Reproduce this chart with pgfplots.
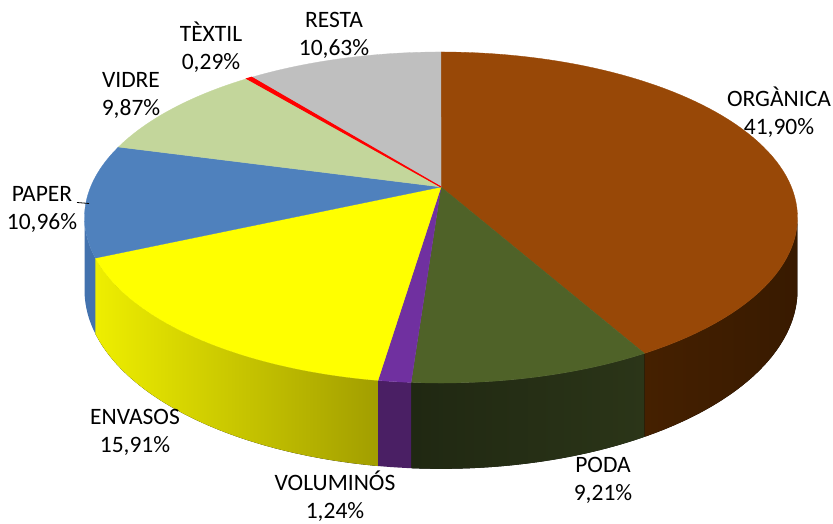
\documentclass[border=0pt]{standalone}
\usepackage{pgfplots}
\pgfplotsset{compat=1.18}
\usepackage{pgfplotstable}
\usepgfplotslibrary{fillbetween}
\usepackage{fontspec}
\setmainfont{Carlito}

\definecolor{cORG}{HTML}{984807}
\definecolor{cPOD}{HTML}{4F6228}
\definecolor{cVOL}{HTML}{7030A0}
\definecolor{cENV}{HTML}{FFFF00}
\definecolor{cPAP}{HTML}{4F81BD}
\definecolor{cVID}{HTML}{C3D69B}
\definecolor{cTEX}{HTML}{FF0000}
\definecolor{cRES}{HTML}{BFBFBF}
\definecolor{wORGa}{HTML}{452000}
\definecolor{wORGb}{HTML}{381A00}
\definecolor{wPODa}{HTML}{2B3518}
\definecolor{wPODb}{HTML}{202812}
\definecolor{wVOL}{HTML}{4A1F64}
\definecolor{wENVa}{HTML}{EEEE00}
\definecolor{wENVb}{HTML}{A29E00}
\definecolor{wPAPb}{HTML}{4372AE}

\pgfplotstableread{
id pct
ORG 41.90
POD 9.21
VOL 1.24
ENV 15.91
PAP 10.96
VID 9.87
TEX 0.29
RES 10.63
}\piedata

\pgfplotstablegetelem{0}{pct}\of\piedata \pgfmathsetmacro\aI{3.6*\pgfplotsretval}
\pgfplotstablegetelem{1}{pct}\of\piedata \pgfmathsetmacro\aII{\aI+3.6*\pgfplotsretval}
\pgfplotstablegetelem{2}{pct}\of\piedata \pgfmathsetmacro\aIII{\aII+3.6*\pgfplotsretval}
\pgfplotstablegetelem{3}{pct}\of\piedata \pgfmathsetmacro\aIV{\aIII+3.6*\pgfplotsretval}
\pgfplotstablegetelem{4}{pct}\of\piedata \pgfmathsetmacro\aV{\aIV+3.6*\pgfplotsretval}
\pgfplotstablegetelem{5}{pct}\of\piedata \pgfmathsetmacro\aVI{\aV+3.6*\pgfplotsretval}
\pgfplotstablegetelem{6}{pct}\of\piedata \pgfmathsetmacro\aVII{\aVI+3.6*\pgfplotsretval}
\def\aVIII{360}
\def\vs{100.62}
\def\ve{259.38}

\def\PX{441+350.4*sin(x)/(1+0.1843*cos(x))}
\def\PY{337+159.9*cos(x)/(1+0.1843*cos(x))}
\def\PB{337+(159.9*cos(x)-70)/(1+0.1843*cos(x))}

\newcommand\lab[4]{%
  \node[anchor=base,inner sep=0pt,font=\fontsize{23.5}{28}\selectfont] at (axis cs:#1,524-#2) {#3};
  \node[anchor=base,inner sep=0pt,font=\fontsize{23.5}{28}\selectfont] at (axis cs:#1,524-#2-28) {#4};}

\begin{document}
\begin{tikzpicture}
\begin{axis}[x=1pt,y=1pt,xmin=0,xmax=833,ymin=0,ymax=524,hide axis,clip=false,
  samples=80, variable=x]
\path (axis cs:0,0) rectangle (axis cs:833,524);
% side walls
\addplot[draw=none,name path=tA,domain=\vs:\aI] ({\PX},{\PY});
\addplot[draw=none,name path=bA,domain=\vs:\aI] ({\PX},{\PB});
\addplot[left color=wORGa, right color=wORGb, draw=none] fill between[of=tA and bA];
\addplot[draw=none,name path=tB,domain=\aI:\aII] ({\PX},{\PY});
\addplot[draw=none,name path=bB,domain=\aI:\aII] ({\PX},{\PB});
\addplot[left color=wPODb, right color=wPODa, draw=none] fill between[of=tB and bB];
\addplot[draw=none,name path=tC,domain=\aII:\aIII,samples=10] ({\PX},{\PY});
\addplot[draw=none,name path=bC,domain=\aII:\aIII,samples=10] ({\PX},{\PB});
\addplot[fill=wVOL, draw=none] fill between[of=tC and bC];
\addplot[draw=none,name path=tD,domain=\aIII:\aIV] ({\PX},{\PY});
\addplot[draw=none,name path=bD,domain=\aIII:\aIV] ({\PX},{\PB});
\addplot[left color=wENVa, right color=wENVb, draw=none] fill between[of=tD and bD];
\addplot[draw=none,name path=tE,domain=\aIV:\ve,samples=20] ({\PX},{\PY});
\addplot[draw=none,name path=bE,domain=\aIV:\ve,samples=20] ({\PX},{\PB});
\addplot[fill=wPAPb, draw=none] fill between[of=tE and bE];
% top face
\addplot[fill=cORG,draw=cORG,line width=0.3pt,domain=0:\aI] ({\PX},{\PY}) -- (axis cs:441,337) -- cycle;
\addplot[fill=cPOD,draw=cPOD,line width=0.3pt,domain=\aI:\aII] ({\PX},{\PY}) -- (axis cs:441,337) -- cycle;
\addplot[fill=cVOL,draw=cVOL,line width=0.3pt,domain=\aII:\aIII,samples=10] ({\PX},{\PY}) -- (axis cs:441,337) -- cycle;
\addplot[fill=cENV,draw=cENV,line width=0.3pt,domain=\aIII:\aIV] ({\PX},{\PY}) -- (axis cs:441,337) -- cycle;
\addplot[fill=cPAP,draw=cPAP,line width=0.3pt,domain=\aIV:\aV] ({\PX},{\PY}) -- (axis cs:441,337) -- cycle;
\addplot[fill=cVID,draw=cVID,line width=0.3pt,domain=\aV:\aVI] ({\PX},{\PY}) -- (axis cs:441,337) -- cycle;
\addplot[fill=cRES,draw=cRES,line width=0.3pt,domain=\aVII:\aVIII] ({\PX},{\PY}) -- (axis cs:441,337) -- cycle;
\addplot[fill=cTEX,draw=cTEX,line width=1.1pt,domain=\aVI:\aVII,samples=5] ({\PX},{\PY}) -- (axis cs:441,337) -- cycle;
% labels
\lab{779}{107}{ORGÀNICA}{41,90\%}
\lab{603}{473}{PODA}{9,21\%}
\lab{335}{491}{VOLUMINÓS}{1,24\%}
\lab{135}{425}{ENVASOS}{15,91\%}
\lab{42}{202}{PAPER}{10,96\%}
\lab{131}{88}{VIDRE}{9,87\%}
\lab{211}{41.5}{TÈXTIL}{0,29\%}
\lab{334}{28}{RESTA}{10,63\%}
\draw[black, line width=0.8pt] (axis cs:77,321.5) -- (axis cs:89,320.5);
\end{axis}
\end{tikzpicture}
\end{document}
